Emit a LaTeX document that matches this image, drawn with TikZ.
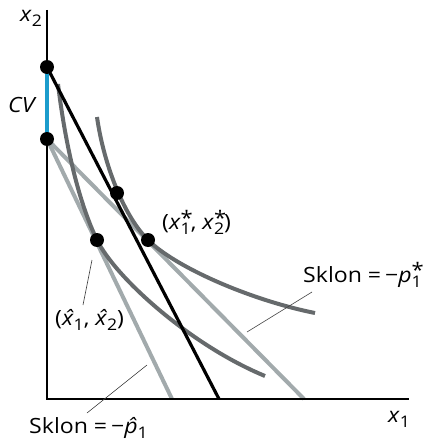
\documentclass[tikz,border=0pt]{standalone}
\usepackage{fontspec}
\setmainfont[FakeStretch=1.1]{Open Sans}
\definecolor{curvegray}{RGB}{102,106,108}
\definecolor{linegray}{RGB}{162,170,172}
\definecolor{cvblue}{RGB}{28,156,204}
\newcommand{\lsub}[1]{\raisebox{-5pt}{\fontsize{16}{16}\selectfont #1}}
\newcommand{\lsup}[1]{\raisebox{4.5pt}{\fontsize{20}{20}\selectfont #1}}
\newcommand{\supsub}[2]{\makebox[0pt][l]{\lsup{#1}}\lsub{#2}}
\newcommand{\hatit}[1]{\ooalign{\textit{#1}\cr\hidewidth\kern0.1em\textit{ˆ}\hidewidth\cr}}
\begin{document}
\begin{tikzpicture}[x=1pt,y=-1pt,
  axis/.style={line width=2.8pt,black,line join=miter},
  budget/.style={line width=3.2pt,black},
  icurve/.style={line width=4pt,curvegray},
  pline/.style={line width=4pt,linegray},
  cvline/.style={line width=4pt,cvblue},
  leader/.style={line width=0.6pt,black!75},
  dot/.style={circle,fill=black,inner sep=0pt,minimum size=14pt},
  lbl/.style={font=\fontsize{21}{24}\selectfont,inner sep=0pt,anchor=base west}]
\useasboundingbox (0,0) rectangle (423,441);
% coordinates
\coordinate (O) at (47,399);
\coordinate (Ytop) at (47,10);
\coordinate (Xend) at (409,399);
\coordinate (Bx) at (219,399);
\coordinate (L1x) at (172,399);
\coordinate (L2x) at (304,399);
\coordinate (U0) at (97,117);
\coordinate (U1) at (315,313);
\coordinate (V0) at (58,84);
\coordinate (V1) at (265,376);
\coordinate (A) at (47,67);
\coordinate (B) at (47,139);
\coordinate (E) at (117,193);
\coordinate (S) at (148,240);
\coordinate (H) at (97,240);
% price lines
\draw[pline] (B) -- (L1x);
\draw[pline] (B) -- (L2x);
% indifference curves
\draw[icurve] (U0) .. controls (103,160) and (122,214) .. (S) .. controls (175,267) and (250,300) .. (U1);
\draw[icurve] (V0) .. controls (66,150) and (80,205) .. (H) .. controls (115,277) and (190,345) .. (V1);
% budget line
\draw[budget] (A) -- (Bx);
% axes
\draw[axis] (Ytop) -- (O) -- (Xend);
% CV
\draw[cvline] (A) -- (B);
% dots
\node[dot] (dA) at (A) {};
\node[dot] (dB) at (B) {};
\node[dot] (dE) at (E) {};
\node[dot] (dS) at (S) {};
\node[dot] (dH) at (H) {};
% labels
\node[lbl] (lx2) at (20,22) {\textit{x}\lsub{2}};
\node[lbl] (lcv) at (8,112) {\textit{CV}};
\node[lbl] (lx1) at (388,422) {\textit{x}\lsub{1}};
\node[lbl] (lstar) at (162,229.5) {(\textit{x}\supsub{*}{1}, \textit{x}\supsub{*}{2})};
\node[lbl] (lhat) at (55,325) {(\hatit{x}\lsub{1}, \hatit{x}\lsub{2})};
\node[lbl] (lpstar) at (303,282) {Sklon = \hspace{-0.1em}−\textit{p}\supsub{*}{1}};
\node[lbl] (lphat) at (29,433) {Sklon = \hspace{-0.1em}−\hatit{p}\lsub{1}};
% leaders
\coordinate (h1) at (92,260);
\coordinate (h2) at (83,305);
\coordinate (s1) at (312,292);
\coordinate (s2) at (247,332);
\coordinate (p1) at (147,365);
\coordinate (p2) at (87,413);
\draw[leader] (h1) -- (h2);
\draw[leader] (s1) -- (s2);
\draw[leader] (p1) -- (p2);
\end{tikzpicture}
\end{document}
